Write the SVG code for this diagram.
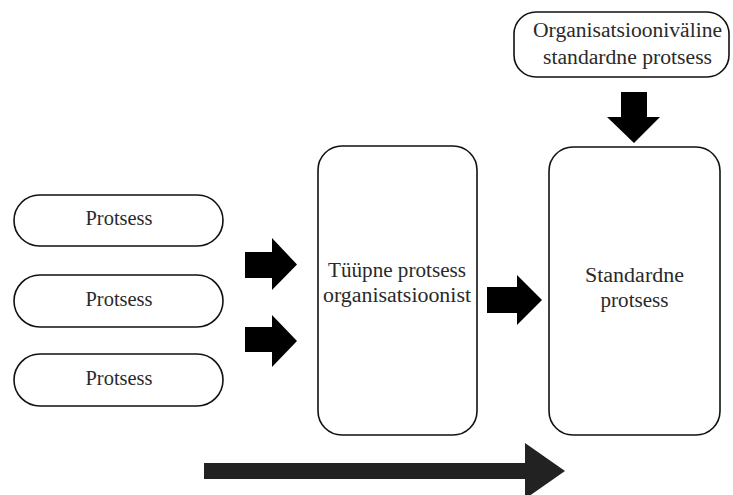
<svg xmlns="http://www.w3.org/2000/svg" width="733" height="495" viewBox="0 0 733 495">
  <style>
    .node { fill: #ffffff; stroke: #111111; stroke-width: 1.6; }
    .label { font-family: "Liberation Serif", "Times New Roman", serif; font-size: 20px; fill: #2a2a2a; text-anchor: middle; }
    .block { fill: #000000; }
    .flow { fill: #222222; }
  </style>
  <rect width="733" height="495" fill="#ffffff"/>

  <g id="process-1">
    <rect class="node" x="14" y="195" width="209" height="51" rx="25.5"/>
    <text class="label" x="119" y="225" textLength="67" lengthAdjust="spacingAndGlyphs">Protsess</text>
  </g>
  <g id="process-2">
    <rect class="node" x="14" y="275" width="209" height="52" rx="26"/>
    <text class="label" x="119" y="306" textLength="67" lengthAdjust="spacingAndGlyphs">Protsess</text>
  </g>
  <g id="process-3">
    <rect class="node" x="14" y="354" width="209" height="52" rx="26"/>
    <text class="label" x="119" y="385" textLength="67" lengthAdjust="spacingAndGlyphs">Protsess</text>
  </g>

  <g id="typical-process">
    <rect class="node" x="318" y="146" width="159" height="289" rx="24"/>
    <text class="label" x="397" y="277" textLength="138" lengthAdjust="spacingAndGlyphs">Tüüpne protsess</text>
    <text class="label" x="397" y="302" textLength="148" lengthAdjust="spacingAndGlyphs">organisatsioonist</text>
  </g>

  <g id="standard-process">
    <rect class="node" x="549" y="147" width="171" height="288" rx="24"/>
    <text class="label" x="634.5" y="282" textLength="99" lengthAdjust="spacingAndGlyphs">Standardne</text>
    <text class="label" x="634.5" y="307" textLength="68" lengthAdjust="spacingAndGlyphs">protsess</text>
  </g>

  <g id="org-standard-process">
    <rect class="node" x="514" y="12" width="215" height="65" rx="22"/>
    <text class="label" x="627.5" y="37" textLength="189" lengthAdjust="spacingAndGlyphs">Organisatsiooniväline</text>
    <text class="label" x="627.5" y="64" textLength="169" lengthAdjust="spacingAndGlyphs">standardne protsess</text>
  </g>

  <g id="connectors">
    <!-- block arrows from processes into the typical process -->
    <polygon class="block" points="245,252 272,252 272,238 297,264.5 272,290 272,278 245,278"/>
    <polygon class="block" points="245,327 272,327 272,315 297,341 272,367 272,352 245,352"/>
    <!-- typical process to standard process -->
    <polygon class="block" points="487,287 517,287 517,275 542,300 517,325 517,313 487,313"/>
    <!-- organisation-wide standard down into standard process -->
    <polygon class="block" points="621,92 647,92 647,117 660,117 634,143 607,117 621,117"/>
    <!-- overall direction -->
    <polygon class="flow" points="204,463 525,463 525,443 565,471 525,499 525,479 204,479"/>
  </g>
</svg>
